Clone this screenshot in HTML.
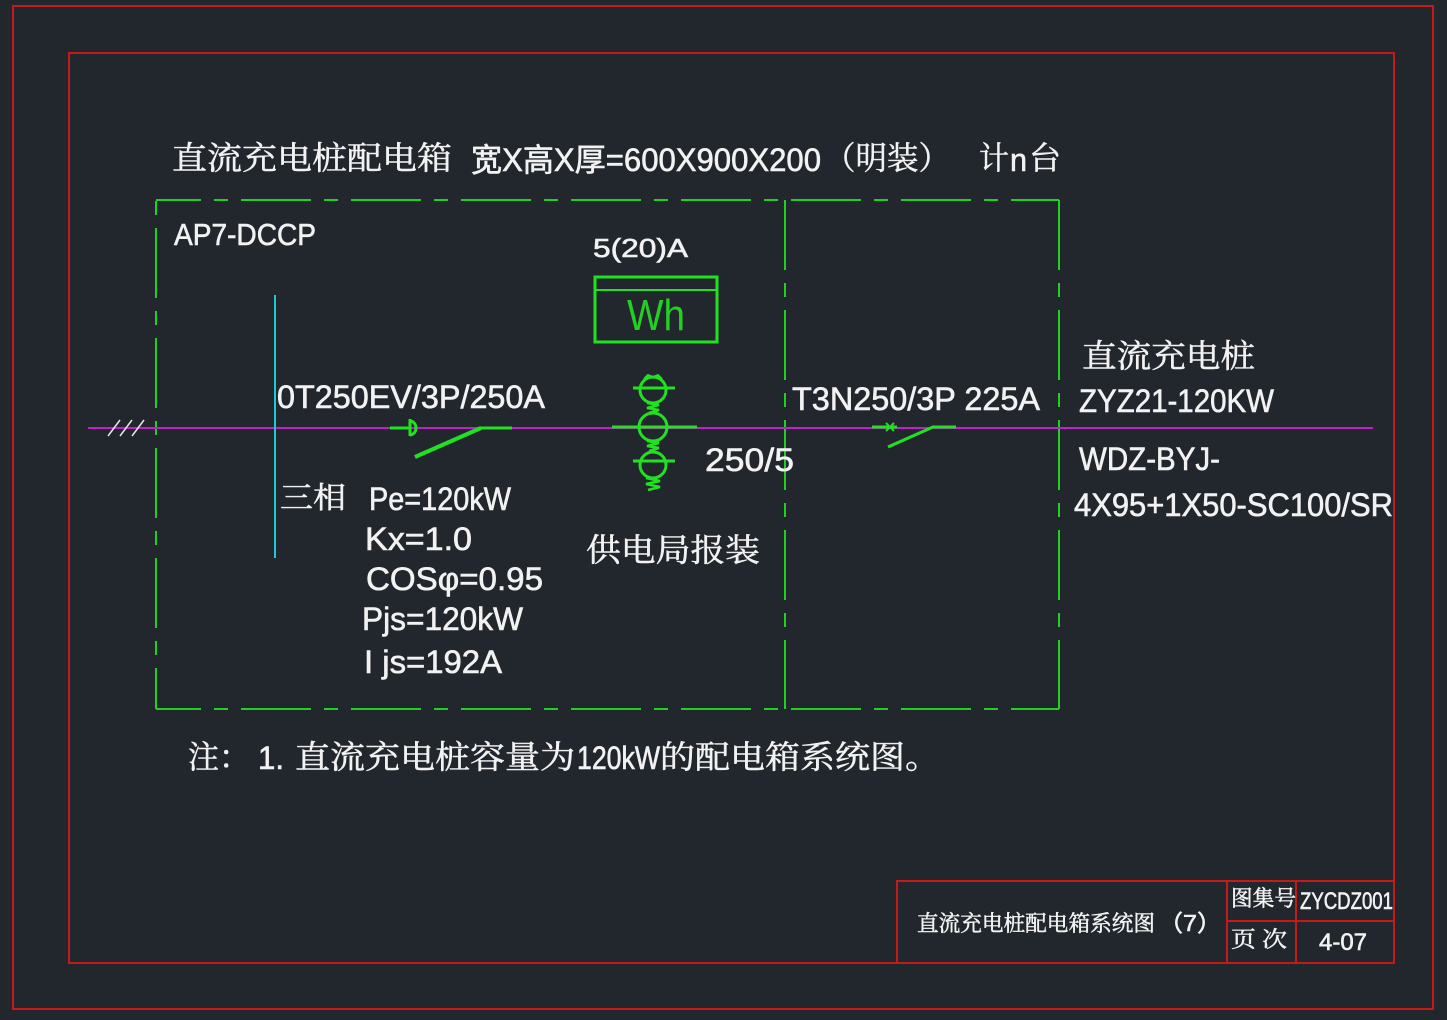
<!DOCTYPE html>
<html><head><meta charset="utf-8"><style>
html,body{margin:0;padding:0;background:#22272e;}
svg{display:block;}
text{font-family:"Liberation Sans","Noto Sans CJK SC",sans-serif;fill:#f2f2f2;stroke:#f2f2f2;stroke-width:0.6;}
.cn{font-family:"Liberation Serif","Noto Serif CJK SC",serif;stroke-width:0.5;}
</style></head><body>
<svg width="1447" height="1020" viewBox="0 0 1447 1020" xmlns="http://www.w3.org/2000/svg">
<rect x="0" y="0" width="1447" height="1020" fill="#22272e"/>
<!-- frames -->
<rect x="13" y="6" width="1420" height="1003" fill="none" stroke="#c41a1a" stroke-width="2"/>
<rect x="69" y="53" width="1325" height="910" fill="none" stroke="#c41a1a" stroke-width="2"/>
<!-- title block -->
<g stroke="#c41a1a" stroke-width="2" fill="none">
<rect x="897" y="881" width="497" height="82"/>
<line x1="1227" y1="881" x2="1227" y2="963"/>
<line x1="1296" y1="881" x2="1296" y2="963"/>
<line x1="1227" y1="921" x2="1394" y2="921"/>
</g>

<!-- dashed box -->
<g stroke="#22d022" stroke-width="2" fill="none" stroke-dasharray="70 13 14 13">
<line x1="156" y1="200" x2="1059" y2="200" stroke-dashoffset="25"/>
<line x1="156" y1="709" x2="1059" y2="709" stroke-dashoffset="25"/>
<line x1="156" y1="200" x2="156" y2="709" stroke-dashoffset="82"/>
<line x1="785" y1="200" x2="785" y2="709" stroke-dashoffset="0"/>
<line x1="1059" y1="200" x2="1059" y2="709" stroke-dashoffset="0"/>
</g>

<!-- bus line -->
<line x1="88" y1="428" x2="1373" y2="428" stroke="#c020c8" stroke-width="2"/>
<!-- slashes -->
<g stroke="#e8e8e8" stroke-width="1.5">
<line x1="108" y1="436" x2="120" y2="420"/>
<line x1="120" y1="436" x2="132" y2="420"/>
<line x1="132" y1="436" x2="144" y2="420"/>
</g>
<!-- cyan -->
<line x1="275" y1="295" x2="275" y2="558" stroke="#1ec8d8" stroke-width="2"/>

<!-- breaker 1 -->
<g stroke="#22e022" stroke-width="3" fill="none">
<line x1="390" y1="428" x2="410" y2="428"/>
<line x1="410" y1="419" x2="410" y2="436"/>
<path d="M410 421 A6 7 0 0 1 410 435"/>
<line x1="415" y1="457" x2="481" y2="428" stroke-width="4"/>
<line x1="480" y1="428" x2="512" y2="428"/>
</g>

<!-- meter -->
<rect x="595" y="277" width="122" height="65" fill="none" stroke="#22e022" stroke-width="3"/>
<line x1="595" y1="290" x2="717" y2="290" stroke="#22e022" stroke-width="2"/>
<text x="627" y="330" font-size="44" textLength="58" lengthAdjust="spacingAndGlyphs" style="fill:#22d022;stroke:none">Wh</text>

<!-- CT -->
<g stroke="#22e022" stroke-width="3" fill="none">
<circle cx="653" cy="390" r="13"/>
<circle cx="653" cy="427" r="14"/>
<circle cx="653" cy="465" r="13"/>
<line x1="633" y1="388" x2="675" y2="388"/>
<line x1="612" y1="427" x2="697" y2="427"/>
<line x1="633" y1="461" x2="675" y2="461"/>
<polyline points="647,403 659,405 647,408 659,410 649,413" stroke-width="2.5"/>
<polyline points="647,441 659,443 647,446 659,448 649,451" stroke-width="2.5"/>
<polyline points="646,478 660,481 646,484 660,487 648,490" stroke-width="2.5"/>
<polyline points="644,379 648,375 653,377 658,375 662,379" stroke-width="2"/>
</g>

<!-- breaker 2 -->
<g stroke="#22e022" stroke-width="3" fill="none">
<line x1="872" y1="427" x2="897" y2="427"/>
<line x1="886" y1="423" x2="894" y2="431" stroke-width="2"/>
<line x1="886" y1="431" x2="894" y2="423" stroke-width="2"/>
<line x1="888" y1="447" x2="933" y2="427"/>
<line x1="932" y1="427" x2="956" y2="427"/>
</g>

<!-- title -->
<text class="cn" x="172" y="169" font-size="32" textLength="280" lengthAdjust="spacingAndGlyphs">直流充电桩配电箱</text>
<text x="471" y="171" font-size="32" textLength="350" lengthAdjust="spacingAndGlyphs">宽X高X厚=600X900X200</text>
<text class="cn" x="824" y="169" font-size="32" textLength="126" lengthAdjust="spacingAndGlyphs">（明装）</text>
<text class="cn" x="979" y="169" font-size="32" textLength="30" lengthAdjust="spacingAndGlyphs">计</text>
<text x="1010" y="171" font-size="32" textLength="17" lengthAdjust="spacingAndGlyphs">n</text>
<text class="cn" x="1029" y="169" font-size="32" textLength="32" lengthAdjust="spacingAndGlyphs">台</text>

<text x="174" y="245" font-size="31" textLength="142" lengthAdjust="spacingAndGlyphs">AP7-DCCP</text>
<text x="593" y="257" font-size="26" textLength="95" lengthAdjust="spacingAndGlyphs">5(20)A</text>
<text x="277" y="408" font-size="32" textLength="268" lengthAdjust="spacingAndGlyphs">0T250EV/3P/250A</text>
<text x="792" y="410" font-size="32" textLength="248" lengthAdjust="spacingAndGlyphs">T3N250/3P 225A</text>
<text x="705" y="471" font-size="32" textLength="89" lengthAdjust="spacingAndGlyphs">250/5</text>

<text class="cn" x="1082" y="367" font-size="32" textLength="173" lengthAdjust="spacingAndGlyphs">直流充电桩</text>
<text x="1079" y="412" font-size="32" textLength="195" lengthAdjust="spacingAndGlyphs">ZYZ21-120KW</text>
<text x="1079" y="470" font-size="32" textLength="141" lengthAdjust="spacingAndGlyphs">WDZ-BYJ-</text>
<text x="1074" y="516" font-size="32" textLength="319" lengthAdjust="spacingAndGlyphs">4X95+1X50-SC100/SR</text>

<text class="cn" x="280" y="508" font-size="30" textLength="66" lengthAdjust="spacingAndGlyphs">三相</text>
<text x="369" y="510" font-size="32" textLength="142" lengthAdjust="spacingAndGlyphs">Pe=120kW</text>
<text x="365" y="550" font-size="32" textLength="107" lengthAdjust="spacingAndGlyphs">Kx=1.0</text>
<text x="366" y="590" font-size="32" textLength="177" lengthAdjust="spacingAndGlyphs">COSφ=0.95</text>
<text x="362" y="630" font-size="32" textLength="161" lengthAdjust="spacingAndGlyphs">Pjs=120kW</text>
<text x="364" y="673" font-size="32" textLength="138" lengthAdjust="spacingAndGlyphs">I js=192A</text>
<text class="cn" x="586" y="561" font-size="32" textLength="174" lengthAdjust="spacingAndGlyphs">供电局报装</text>

<!-- note -->
<text class="cn" x="188" y="768" font-size="32" textLength="62" lengthAdjust="spacingAndGlyphs">注：</text>
<text x="258" y="769" font-size="32" textLength="26" lengthAdjust="spacingAndGlyphs">1.</text>
<text class="cn" x="295" y="768" font-size="32" textLength="280" lengthAdjust="spacingAndGlyphs">直流充电桩容量为</text>
<text x="577" y="769" font-size="32" textLength="83" lengthAdjust="spacingAndGlyphs">120kW</text>
<text class="cn" x="660" y="768" font-size="32" textLength="280" lengthAdjust="spacingAndGlyphs">的配电箱系统图。</text>

<!-- title block text -->
<text class="cn" x="917" y="931" font-size="22" textLength="238" lengthAdjust="spacingAndGlyphs">直流充电桩配电箱系统图</text>
<text x="1158" y="931" font-size="23" textLength="64" lengthAdjust="spacingAndGlyphs">（7）</text>
<text class="cn" x="1231" y="906" font-size="22" textLength="65" lengthAdjust="spacingAndGlyphs">图集号</text>
<text x="1300" y="909" font-size="24" textLength="93" lengthAdjust="spacingAndGlyphs">ZYCDZ001</text>
<text class="cn" x="1231" y="947" font-size="22" textLength="56" lengthAdjust="spacingAndGlyphs">页 次</text>
<text x="1319" y="950" font-size="24" textLength="48" lengthAdjust="spacingAndGlyphs">4-07</text>
</svg>
</body></html>
